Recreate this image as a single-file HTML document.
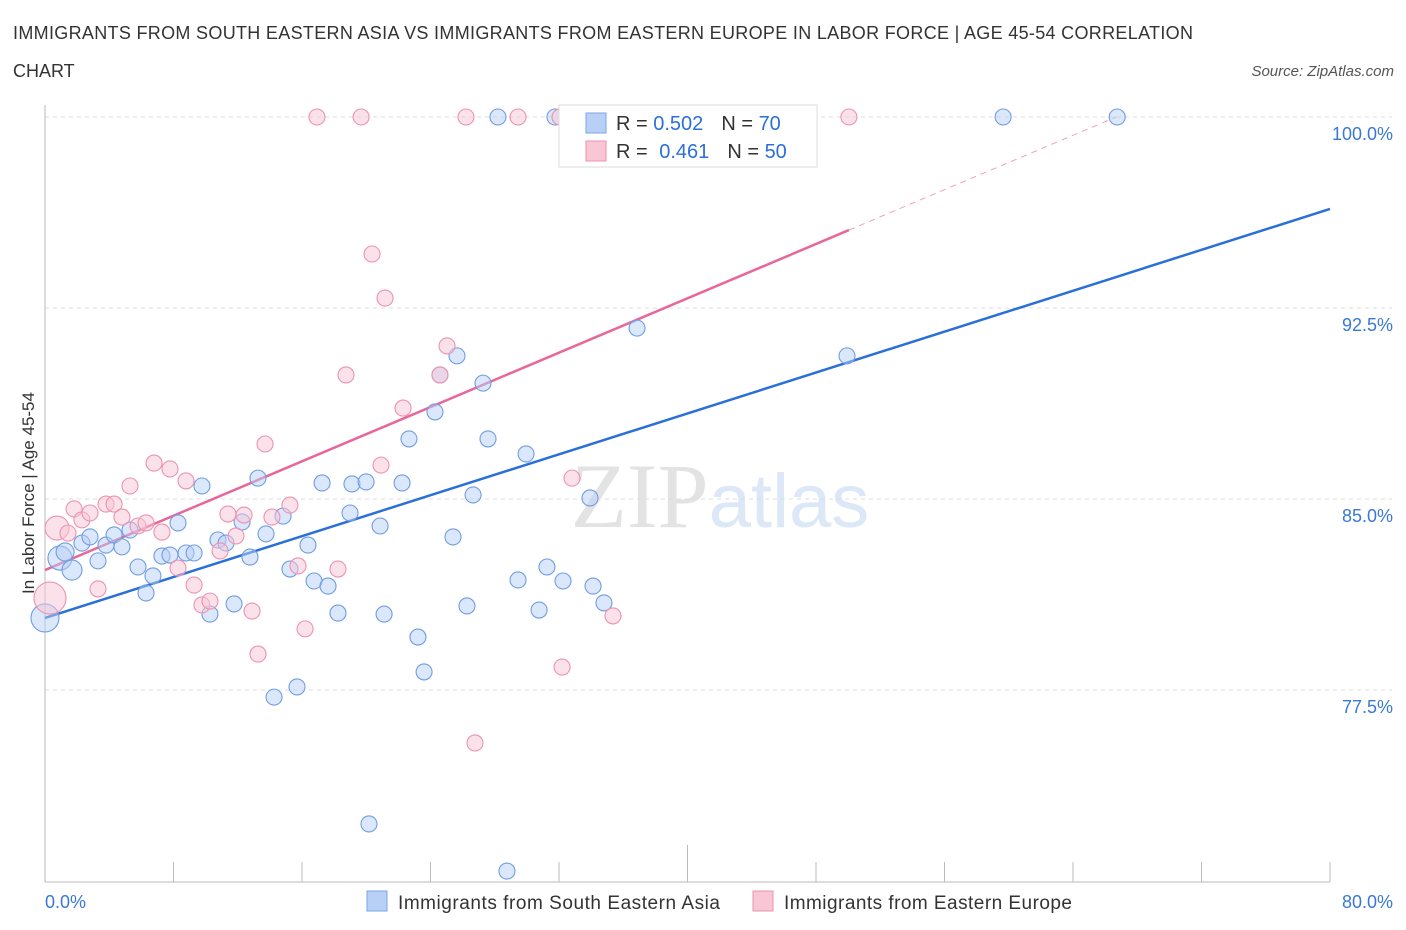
<!DOCTYPE html>
<html><head><meta charset="utf-8"><style>
body{margin:0;background:#fff;font-family:"Liberation Sans",sans-serif;}
svg{display:block}
</style></head><body>
<svg id="chart" width="1406" height="930" xmlns="http://www.w3.org/2000/svg">
<text x="13" y="39" font-size="18" fill="#333" textLength="1180" lengthAdjust="spacing">IMMIGRANTS FROM SOUTH EASTERN ASIA VS IMMIGRANTS FROM EASTERN EUROPE IN LABOR FORCE | AGE 45-54 CORRELATION</text>
<text x="13" y="77" font-size="18" fill="#333">CHART</text>
<text x="1394" y="76" font-size="15" fill="#555" text-anchor="end" font-style="italic">Source: ZipAtlas.com</text>
<text x="720" y="527" font-size="92" text-anchor="middle" font-family="Liberation Serif, serif"><tspan fill="#e3e3e3">ZIP</tspan><tspan fill="#dce8f7" font-family="Liberation Sans, sans-serif" font-size="76">atlas</tspan></text>
<g id="grid"></g>
<g id="axes"></g>
<g id="lines"></g>
<g id="points"></g>
<text transform="translate(34,493) rotate(-90)" font-size="17" fill="#333" text-anchor="middle">In Labor Force | Age 45-54</text>
<text x="45" y="908" font-size="18" fill="#3a78d6">0.0%</text>
<text x="1393" y="908" font-size="18" fill="#3a78d6" text-anchor="end">80.0%</text>
<g>
<rect x="559" y="105" width="258" height="62" fill="#fff" stroke="#ddd"/>
<rect x="586" y="113" width="20" height="20" fill="#b8d0f5" stroke="#7aa6e8"/>
<rect x="586" y="141" width="20" height="20" fill="#f8c6d5" stroke="#ec93ae"/>
<text x="616" y="130" font-size="20" fill="#333">R = <tspan fill="#2b70d8">0.502</tspan><tspan dx="18">N = </tspan><tspan fill="#2b70d8">70</tspan></text>
<text x="616" y="158" font-size="20" fill="#333">R = <tspan fill="#2b70d8" dx="6">0.461</tspan><tspan dx="18">N = </tspan><tspan fill="#2b70d8">50</tspan></text>
</g>
<g>
<rect x="367" y="891" width="20" height="20" fill="#b8d0f5" stroke="#7aa6e8"/>
<text x="398" y="909" font-size="19" fill="#333" textLength="322" lengthAdjust="spacing">Immigrants from South Eastern Asia</text>
<rect x="753" y="891" width="20" height="20" fill="#f8c6d5" stroke="#ec93ae"/>
<text x="784" y="909" font-size="19" fill="#333" textLength="288" lengthAdjust="spacing">Immigrants from Eastern Europe</text>
</g>
</svg>
<script>
const yTicks=[100,92.5,85,77.5];
const yTickLabels=["100.0%","92.5%","85.0%","77.5%"];
const xTicks=[0,8,16,24,32,40,48,56,64,72,80];
const blueX=[0,0.93,1.25,1.68,2.30,2.80,3.30,3.80,4.30,4.79,5.29,5.79,6.29,6.72,7.28,7.78,8.28,8.78,9.28,9.77,10.27,10.77,11.27,11.77,12.27,12.76,13.26,13.76,14.26,14.82,15.25,15.69,16.37,16.75,17.25,17.62,18.24,18.99,19.11,19.99,20.17,20.86,21.11,22.23,22.66,23.22,23.60,24.28,24.59,25.40,25.65,26.27,26.65,27.27,27.58,28.20,28.76,29.45,29.95,30.76,31.25,31.75,32.25,33.93,34.12,34.80,36.86,49.93,59.65,66.75];
const blueY=[80.33,82.68,82.92,82.21,83.27,83.51,82.57,83.19,83.59,83.12,83.78,82.33,81.31,81.98,82.76,82.80,84.06,82.88,82.88,85.51,80.48,83.39,83.27,80.88,84.10,82.72,85.82,83.63,77.22,84.33,82.25,77.62,83.19,81.78,85.63,81.58,80.52,84.45,85.59,85.67,72.24,83.94,80.48,85.63,87.36,79.58,78.21,88.42,89.87,83.51,90.62,80.80,85.16,89.55,87.36,100,70.39,81.82,86.77,80.64,82.33,100,81.78,85.04,81.58,80.92,91.71,90.62,100,100];
const blueSize=[14,12,9,10];
const pinkX=[0.31,0.75,1.43,1.81,2.30,2.80,3.30,3.80,4.30,4.79,5.29,5.79,6.29,6.79,7.28,7.78,8.28,8.78,9.28,9.77,10.27,10.90,11.39,11.89,12.39,12.89,13.26,13.70,14.13,15.25,15.75,16.19,16.93,18.24,18.74,19.68,20.36,20.92,21.17,22.29,24.59,25.03,26.21,26.77,29.45,32.06,32.19,32.81,35.36,50.05];
const pinkY=[81.11,83.86,83.66,84.61,84.18,84.45,81.47,84.80,84.80,84.29,85.51,83.94,84.06,86.41,83.70,86.18,82.29,85.71,81.62,80.84,80.99,82.96,84.41,83.55,84.37,80.60,78.91,87.16,84.29,84.76,82.37,79.90,100,82.25,89.87,100,94.62,86.33,92.89,88.57,89.87,91.01,100,75.42,100,100,78.40,85.82,80.41,100];
const pinkSize=[16,12];
const blueTrend=[80.33,96.39];
const pinkTrend=[82.21,95.56,50.05];
const NS="http://www.w3.org/2000/svg";
const X=v=>45+v/80*1285, Y=v=>117+(100-v)/7.5*191;
function mk(tag,attrs,parent){const e=document.createElementNS(NS,tag);for(const k in attrs)e.setAttribute(k,attrs[k]);document.getElementById(parent).appendChild(e);return e;}
yTicks.forEach((t,i)=>{
 const g=mk('line',{x1:45,x2:1392,y1:Y(t),y2:Y(t),stroke:'#ddd','stroke-dasharray':'4,4'},'grid');
 
 
 const l=mk('text',{x:1393,y:Y(t)+23,'font-size':18,fill:'#3a78d6','text-anchor':'end'},'grid');
 l.textContent=yTickLabels[i];
 
 
});
const ax=mk('line',{x1:45,x2:45,y1:105,y2:882,stroke:'#bbb'},'axes');


const bx=mk('line',{x1:45,x2:1330,y1:882,y2:882,stroke:'#bbb'},'axes');


xTicks.forEach(t=>{
 const k=mk('line',{x1:X(t),x2:X(t),y1:t==40?845:862,y2:882,stroke:'#bbb'},'axes');
 
 
});
function pts(xs,ys,sz,fill,stroke,name){xs.forEach((x,i)=>{
 const c=mk('circle',{cx:X(x),cy:Y(ys[i]),r:sz[i]||8,fill:fill,'fill-opacity':0.5,stroke:stroke,'stroke-width':1.1},'points');
 
 
});}
pts(blueX,blueY,blueSize,'#b8d0f5','#6f9de3','point-south-eastern-asia');
pts(pinkX,pinkY,pinkSize,'#f8c6d5','#ec93ae','point-eastern-europe');
const bl=mk('line',{x1:X(0),y1:Y(blueTrend[0]),x2:X(80),y2:Y(blueTrend[1]),stroke:'#2b70d8','stroke-width':2.5},'lines');


const ps=(pinkTrend[1]-pinkTrend[0])/pinkTrend[2];
const pl=mk('line',{x1:X(0),y1:Y(pinkTrend[0]),x2:X(pinkTrend[2]),y2:Y(pinkTrend[1]),stroke:'#e8679a','stroke-width':2.5},'lines');


const xe=(100-pinkTrend[0])/ps;
const pd=mk('line',{x1:X(pinkTrend[2]),y1:Y(pinkTrend[1]),x2:X(xe),y2:Y(100),stroke:'#eea0bd','stroke-width':1,'stroke-dasharray':'6,5'},'lines');


</script>
</body></html>
